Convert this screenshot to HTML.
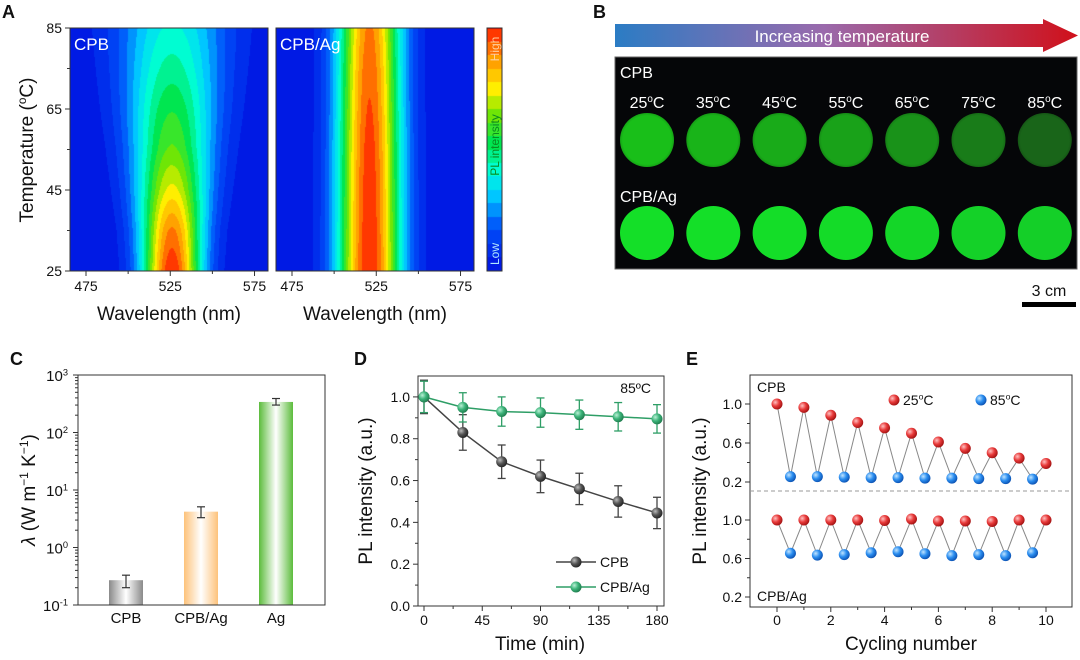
<!DOCTYPE html>
<html><head><meta charset="utf-8"><style>
body{margin:0;background:#fff;}
#page{position:relative;width:1080px;height:660px;overflow:hidden;font-family:"Liberation Sans",Arial,sans-serif;}
canvas{position:absolute;}
svg{position:absolute;left:0;top:0;}
text{font-family:"Liberation Sans",Arial,sans-serif;}
</style></head><body>
<div id="page">
<canvas id="hmA1" width="198" height="243" style="left:70px;top:28px"></canvas>
<canvas id="hmA2" width="198" height="243" style="left:276px;top:28px"></canvas>
<canvas id="cbar" width="15" height="243" style="left:487px;top:28px"></canvas>
<svg id="svg" width="1080" height="660" xmlns="http://www.w3.org/2000/svg">
<defs>
<linearGradient id="arrowGrad" x1="0" x2="1" y1="0" y2="0"><stop offset="0" stop-color="#2b7cc4"/><stop offset="0.45" stop-color="#9a6aac"/><stop offset="1" stop-color="#d0101a"/></linearGradient>
<linearGradient id="gGray" x1="0" x2="1"><stop offset="0" stop-color="#8a8a8a"/><stop offset="0.5" stop-color="#ffffff"/><stop offset="1" stop-color="#8a8a8a"/></linearGradient>
<linearGradient id="gOrange" x1="0" x2="1"><stop offset="0" stop-color="#fdc27a"/><stop offset="0.5" stop-color="#ffffff"/><stop offset="1" stop-color="#fdc27a"/></linearGradient>
<linearGradient id="gGreen" x1="0" x2="1"><stop offset="0" stop-color="#5cbc3c"/><stop offset="0.5" stop-color="#ffffff"/><stop offset="1" stop-color="#5cbc3c"/></linearGradient>
<radialGradient id="sDark" cx="0.35" cy="0.35" r="0.7"><stop offset="0" stop-color="#bbb"/><stop offset="0.5" stop-color="#555"/><stop offset="1" stop-color="#222"/></radialGradient>
<radialGradient id="sGreen" cx="0.35" cy="0.35" r="0.7"><stop offset="0" stop-color="#b9f0d5"/><stop offset="0.5" stop-color="#3cb47a"/><stop offset="1" stop-color="#1e7a4c"/></radialGradient>
<radialGradient id="sRed" cx="0.35" cy="0.35" r="0.7"><stop offset="0" stop-color="#ffc0c0"/><stop offset="0.5" stop-color="#e83a3a"/><stop offset="1" stop-color="#a01010"/></radialGradient>
<radialGradient id="sBlue" cx="0.35" cy="0.35" r="0.7"><stop offset="0" stop-color="#c0e4ff"/><stop offset="0.5" stop-color="#2b8ef0"/><stop offset="1" stop-color="#0a4fb0"/></radialGradient>
<radialGradient id="dishG" cx="0.5" cy="0.5" r="0.5"><stop offset="0.9" stop-color="#000" stop-opacity="0"/><stop offset="1" stop-color="#000" stop-opacity="0.15"/></radialGradient>
</defs>
</svg>
</div>
<script>
// ---------- Panel A data ----------
const tempsA = [25, 35, 45, 55, 65, 75, 85];
const peakCPB = [1.0, 0.9, 0.74, 0.62, 0.55, 0.47, 0.4];
const sigmaCPB = [13, 14, 16, 18, 20, 22, 24];
const peakCPBAg = [1.0, 0.99, 0.98, 0.97, 0.95, 0.93, 0.9];
const sigmaCPBAg = [14, 14, 14, 14, 14, 14, 14];
const centerCPB = 526;
const centerCPBAg = 521;
const tickWl = [475, 525, 575];
const tickTemp = [25, 45, 65, 85];
// ---------- Panel B data ----------
const tempsB = ["25", "35", "45", "55", "65", "75", "85"];
const brightCPB = [0.85, 0.8, 0.76, 0.72, 0.65, 0.55, 0.45];
const brightCPBAg = [0.95, 0.95, 0.94, 0.93, 0.91, 0.89, 0.88];
// ---------- Panel C data ----------
const catC = ["CPB", "CPB/Ag", "Ag"];
const valC = [0.27, 4.2, 340];
const errLoC = [0.2, 3.3, 300];
const errHiC = [0.33, 5.1, 390];
// ---------- Panel D data ----------
const timeD = [0, 30, 60, 90, 120, 150, 180];
const cpbD = [1.0, 0.83, 0.69, 0.62, 0.56, 0.5, 0.445];
const cpbErrD = [0.08, 0.085, 0.08, 0.078, 0.075, 0.075, 0.075];
const agD = [1.0, 0.95, 0.93, 0.925, 0.915, 0.905, 0.895];
const agErrD = [0.075, 0.07, 0.07, 0.07, 0.07, 0.068, 0.068];
const tickD_x = [0, 45, 90, 135, 180];
const tickD_y = [0, 0.2, 0.4, 0.6, 0.8, 1.0];
// ---------- Panel E data ----------
const cpbHot = [1.0, 0.965, 0.885, 0.81, 0.755, 0.70, 0.61, 0.545, 0.50, 0.445, 0.39];
const cpbCold = [0.255, 0.255, 0.25, 0.245, 0.245, 0.24, 0.24, 0.235, 0.235, 0.23];
const agHot = [1.0, 1.0, 1.0, 1.0, 0.995, 1.01, 0.99, 0.99, 0.985, 1.0, 1.0];
const agCold = [0.655, 0.635, 0.64, 0.66, 0.67, 0.65, 0.63, 0.64, 0.63, 0.66];
const tickE_x = [0, 2, 4, 6, 8, 10];
const tickE_y = [0.2, 0.6, 1.0];

const NS = "http://www.w3.org/2000/svg";
const svg = document.getElementById('svg');
function mk(tag, attrs, parent, txt){
  const e = document.createElementNS(NS, tag);
  for (const k in attrs) e.setAttribute(k, attrs[k]);
  if (txt !== undefined) e.textContent = txt;
  (parent || svg).appendChild(e);
  return e;
}
function label(x, y, s, size, anchor, name, extra){
  const t = mk('text', Object.assign({x:x, y:y, 'font-size':size, 'text-anchor':anchor||'middle', fill:'#111'}, extra||{}), null, s);
  
  
  return t;
}
function supText(x, y, base, sup, after, size, anchor, name, rot){
  const t = mk('text', {x:x, y:y, 'font-size':size, 'text-anchor':anchor||'middle', fill:'#111'});
  if (rot) t.setAttribute('transform', rot);
  
  
  mk('tspan', {}, t, base);
  mk('tspan', {'font-size':size*0.62, dy:-size*0.38}, t, sup);
  if (after) mk('tspan', {dy:size*0.38}, t, after);
  return t;
}

// ---------- Panel A heatmaps ----------
const cmapStops = [[0,[0,26,228]],[0.15,[0,80,250]],[0.28,[0,200,255]],[0.38,[0,255,220]],[0.5,[0,230,80]],[0.62,[120,230,0]],[0.72,[255,240,0]],[0.85,[255,150,0]],[0.95,[255,50,0]],[1,[240,0,0]]];
function cmap(v){
  v = Math.max(0, Math.min(1, v));
  v = Math.floor(v*18)/18;
  for (let i=1;i<cmapStops.length;i++){
    if (v <= cmapStops[i][0]){
      const a = cmapStops[i-1], b = cmapStops[i];
      const f = (v-a[0])/(b[0]-a[0]);
      return a[1].map((c,j)=>Math.round(c+(b[1][j]-c)*f));
    }
  }
  return cmapStops[cmapStops.length-1][1];
}
const wlMinA = 465.5, wlMaxA = 583, tMinA = 25, tMaxA = 85;
function interpAt(arr, T){
  for (let i=1;i<tempsA.length;i++){
    if (T <= tempsA[i]){ const f=(T-tempsA[i-1])/(tempsA[i]-tempsA[i-1]); return arr[i-1]+(arr[i]-arr[i-1])*f; }
  }
  return arr[arr.length-1];
}
function drawHeat(id, peaks, center, sigmas){
  const c = document.getElementById(id), ctx = c.getContext('2d');
  const W=c.width, H=c.height, img=ctx.createImageData(W,H);
  for (let y=0;y<H;y++){
    const T = tMaxA - (tMaxA-tMinA)*y/(H-1);
    const p = interpAt(peaks, T), s = interpAt(sigmas, T);
    for (let x=0;x<W;x++){
      const wl = wlMinA + (wlMaxA-wlMinA)*x/(W-1);
      const v = p*Math.exp(-Math.pow(wl-center,2)/(2*s*s));
      const col = cmap(v); const k=(y*W+x)*4;
      img.data[k]=col[0]; img.data[k+1]=col[1]; img.data[k+2]=col[2]; img.data[k+3]=255;
    }
  }
  ctx.putImageData(img,0,0);
}
drawHeat('hmA1', peakCPB, centerCPB, sigmaCPB);
drawHeat('hmA2', peakCPBAg, centerCPBAg, sigmaCPBAg);
(function(){
  const c=document.getElementById('cbar'), ctx=c.getContext('2d');
  for (let y=0;y<c.height;y++){ const col=cmap(1-y/(c.height-1)); ctx.fillStyle='rgb('+col.join(',')+')'; ctx.fillRect(0,y,c.width,1); }
})();
function axA(x0, w, name){
  mk('rect',{x:x0,y:28,width:w,height:243,fill:'none',stroke:'#333','stroke-width':1});
  const xs = v => x0 + (v-wlMinA)/(wlMaxA-wlMinA)*w;
  tickWl.forEach(v=>{
    mk('line',{x1:xs(v),x2:xs(v),y1:271,y2:276,stroke:'#333'});
    label(xs(v),291,String(v),14,'middle','x-tick-label');
  });
  [500,550].forEach(v=>mk('line',{x1:xs(v),x2:xs(v),y1:271,y2:274,stroke:'#333'}));
  label(x0+w/2,320,'Wavelength (nm)',19,'middle',name+'-x-axis-title');
}
axA(70,198,'cpb'); axA(276,198,'cpb-ag');
const ysA = v => 271 - (v-tMinA)/(tMaxA-tMinA)*243;
tickTemp.forEach(v=>{ mk('line',{x1:65,x2:70,y1:ysA(v),y2:ysA(v),stroke:'#333'}); label(62,ysA(v)+5,String(v),14,'end','y-tick-label'); });
[35,55,75].forEach(v=>mk('line',{x1:67,x2:70,y1:ysA(v),y2:ysA(v),stroke:'#333'}));
supText(33,150,'Temperature (','o','C)',19,'middle','y-axis-title-temperature','rotate(-90 33 150)');
label(74,50,'CPB',17,'start','label-cpb',{fill:'#fff'});
label(280,50,'CPB/Ag',17,'start','label-cpb-ag',{fill:'#fff'});
mk('rect',{x:487,y:28,width:15,height:243,fill:'none',stroke:'#333'});
label(499,49,'High',12,'middle','colorbar-high',{fill:'#ffd0a0',transform:'rotate(-90 499 49)'});
label(499,145,'PL intensity',12,'middle','colorbar-title',{fill:'#0a8a20',transform:'rotate(-90 499 145)'});
label(499,254,'Low',12,'middle','colorbar-low',{fill:'#b0e8ff',transform:'rotate(-90 499 254)'});
label(2,18,'A',18,'start','panel-label-a',{'font-weight':'bold'});

// ---------- Panel B ----------
label(593,18,'B',18,'start','panel-label-b',{'font-weight':'bold'});
const arrow = mk('path',{d:'M615 24 H1043 V19 L1078 35.5 L1043 52 V47 H615 Z',fill:'url(#arrowGrad)'});


label(842,42,'Increasing temperature',17,'middle','arrow-label',{fill:'#fff'});
const photo = mk('rect',{x:615,y:57,width:462,height:212,fill:'#050608',stroke:'#666','stroke-width':1});


label(620,78,'CPB',16,'start','photo-label-cpb',{fill:'#fff'});
label(620,202,'CPB/Ag',16,'start','photo-label-cpb-ag',{fill:'#fff'});
tempsB.forEach((t,i)=>{
  const cx = 647 + i*66.3;
  supText(cx,108,t,'o','C',16,'middle','temp-label',null).setAttribute('fill','#fff');
  const g1 = Math.round(225*brightCPB[i]);
  const d1 = mk('circle',{cx:cx,cy:140,r:27,fill:'rgb(25,'+g1+',25)'});
  
  
  mk('circle',{cx:cx,cy:140,r:27,fill:'url(#dishG)'});
  const g2 = Math.round(235*brightCPBAg[i]);
  const d2 = mk('circle',{cx:cx,cy:233,r:27,fill:'rgb(20,'+g2+',40)'});
  
  
});
label(1049,296,'3 cm',16,'middle','scale-bar-label');
const sb = mk('rect',{x:1022,y:302,width:54,height:5,fill:'#000'});



// ---------- Panel C ----------
label(10,365,'C',18,'start','panel-label-c',{'font-weight':'bold'});
const cX0=78, cX1=325, cY0=375, cY1=605;
const ysC = v => cY1 - (Math.log10(v)+1)/4*(cY1-cY0);
const xsC = i => 126 + i*75;
const grads = ['url(#gGray)','url(#gOrange)','url(#gGreen)'];
catC.forEach((c,i)=>{
  const b = mk('rect',{x:xsC(i)-17,y:ysC(valC[i]),width:34,height:cY1-ysC(valC[i]),fill:grads[i]});
  
  
  const x=xsC(i);
  mk('line',{x1:x,x2:x,y1:ysC(errLoC[i]),y2:ysC(errHiC[i]),stroke:'#333','stroke-width':1.2});
  mk('line',{x1:x-4,x2:x+4,y1:ysC(errLoC[i]),y2:ysC(errLoC[i]),stroke:'#333','stroke-width':1.2});
  mk('line',{x1:x-4,x2:x+4,y1:ysC(errHiC[i]),y2:ysC(errHiC[i]),stroke:'#333','stroke-width':1.2});
  label(x,623,c,15,'middle','x-tick-label');
});
mk('rect',{x:cX0,y:cY0,width:cX1-cX0,height:cY1-cY0,fill:'none',stroke:'#333'});
for (let e=-1;e<=3;e++){
  const y=ysC(Math.pow(10,e));
  mk('line',{x1:cX0-5,x2:cX0,y1:y,y2:y,stroke:'#333'});
  supText(68,y+6,'10',String(e),'',15,'end','y-tick-label',null);
  if (e<3) for (let m=2;m<=9;m++){ const ym=ysC(m*Math.pow(10,e)); mk('line',{x1:cX0-3,x2:cX0,y1:ym,y2:ym,stroke:'#333'}); }
}
const ytc = mk('text',{x:0,y:0,'font-size':19,'text-anchor':'middle',fill:'#111',transform:'translate(35 490) rotate(-90)'});


mk('tspan',{'font-style':'italic'},ytc,'λ');
mk('tspan',{},ytc,' (W m');
mk('tspan',{'font-size':12,dy:-7},ytc,'−1');
mk('tspan',{dy:7},ytc,' K');
mk('tspan',{'font-size':12,dy:-7},ytc,'−1');
mk('tspan',{dy:7},ytc,')');

// ---------- Panel D ----------
label(354,365,'D',18,'start','panel-label-d',{'font-weight':'bold'});
const dX0=418,dX1=664,dY0=376,dY1=606;
const xsD = v => 424 + v*(657-424)/180;
const ysD = v => dY1 - v*(dY1-dY0)/1.1;
mk('rect',{x:dX0,y:dY0,width:dX1-dX0,height:dY1-dY0,fill:'none',stroke:'#333'});
tickD_x.forEach(v=>{ mk('line',{x1:xsD(v),x2:xsD(v),y1:dY1,y2:dY1+5,stroke:'#333'}); label(xsD(v),625,String(v),14,'middle','x-tick-label'); });
[22.5,67.5,112.5,157.5].forEach(v=>mk('line',{x1:xsD(v),x2:xsD(v),y1:dY1,y2:dY1+3,stroke:'#333'}));
tickD_y.forEach(v=>{ mk('line',{x1:dX0-5,x2:dX0,y1:ysD(v),y2:ysD(v),stroke:'#333'}); label(dX0-8,ysD(v)+5,v.toFixed(1),14,'end','y-tick-label'); });
[0.1,0.3,0.5,0.7,0.9].forEach(v=>mk('line',{x1:dX0-3,x2:dX0,y1:ysD(v),y2:ysD(v),stroke:'#333'}));
function seriesD(vals, errs, color, grad, name){
  const pl = mk('polyline',{points:vals.map((v,i)=>xsD(timeD[i])+','+ysD(v)).join(' '),fill:'none',stroke:color,'stroke-width':1.5});
  
  
  vals.forEach((v,i)=>{
    const x=xsD(timeD[i]);
    mk('line',{x1:x,x2:x,y1:ysD(v-errs[i]),y2:ysD(v+errs[i]),stroke:color,'stroke-width':1.3});
    mk('line',{x1:x-4,x2:x+4,y1:ysD(v-errs[i]),y2:ysD(v-errs[i]),stroke:color,'stroke-width':1.3});
    mk('line',{x1:x-4,x2:x+4,y1:ysD(v+errs[i]),y2:ysD(v+errs[i]),stroke:color,'stroke-width':1.3});
    const p = mk('circle',{cx:x,cy:ysD(v),r:5.5,fill:grad});
    
    
  });
}
seriesD(cpbD,cpbErrD,'#444','url(#sDark)','cpb');
seriesD(agD,agErrD,'#2e9e66','url(#sGreen)','cpb-ag');
label(651,393,'85ºC',14,'end','temp-annotation');
mk('line',{x1:556,x2:596,y1:562,y2:562,stroke:'#444','stroke-width':1.5});
mk('circle',{cx:576,cy:562,r:5.5,fill:'url(#sDark)'});
label(600,567,'CPB',14,'start','legend-entry-cpb');
mk('line',{x1:556,x2:596,y1:587,y2:587,stroke:'#2e9e66','stroke-width':1.5});
mk('circle',{cx:576,cy:587,r:5.5,fill:'url(#sGreen)'});
label(600,592,'CPB/Ag',14,'start','legend-entry-cpb-ag');
label(540,650,'Time (min)',19,'middle','x-axis-title-time');
label(0,0,'PL intensity (a.u.)',19,'middle','y-axis-title-pl-d',{transform:'translate(372 491) rotate(-90)'});

// ---------- Panel E ----------
label(686,365,'E',18,'start','panel-label-e',{'font-weight':'bold'});
const eX0=750,eX1=1072,eY0=375,eY1=607;
const xsE = v => 777 + v*(1046-777)/10;
const ysEu = v => 404 + (1.0-v)*(482-404)/0.8;
const ysEl = v => 520 + (1.0-v)*(597-520)/0.8;
mk('rect',{x:eX0,y:eY0,width:eX1-eX0,height:eY1-eY0,fill:'none',stroke:'#333'});
mk('line',{x1:eX0,x2:eX1,y1:491,y2:491,stroke:'#999','stroke-dasharray':'4 3'});
tickE_x.forEach(v=>{ mk('line',{x1:xsE(v),x2:xsE(v),y1:eY1,y2:eY1+5,stroke:'#333'}); label(xsE(v),625,String(v),14,'middle','x-tick-label'); });
[1,3,5,7,9].forEach(v=>mk('line',{x1:xsE(v),x2:xsE(v),y1:eY1,y2:eY1+3,stroke:'#333'}));
tickE_y.forEach(v=>{
  [ysEu(v),ysEl(v)].forEach(y=>{ mk('line',{x1:eX0-5,x2:eX0,y1:y,y2:y,stroke:'#333'}); label(eX0-8,y+5,v.toFixed(1),14,'end','y-tick-label'); });
});
[0.4,0.8].forEach(v=>{ [ysEu(v),ysEl(v)].forEach(y=>mk('line',{x1:eX0-3,x2:eX0,y1:y,y2:y,stroke:'#333'})); });
function seriesE(hot, cold, ys, name){
  const pts=[];
  hot.forEach((v,i)=>{ pts.push([xsE(i),ys(v)]); if (i<cold.length) pts.push([xsE(i+0.5),ys(cold[i])]); });
  const pl = mk('polyline',{points:pts.map(p=>p.join(',')).join(' '),fill:'none',stroke:'#888','stroke-width':1});
  
  
  hot.forEach((v,i)=>{ const c=mk('circle',{cx:xsE(i),cy:ys(v),r:5.5,fill:'url(#sRed)'});   });
  cold.forEach((v,i)=>{ const c=mk('circle',{cx:xsE(i+0.5),cy:ys(v),r:5.5,fill:'url(#sBlue)'});   });
}
seriesE(cpbHot,cpbCold,ysEu,'cpb');
seriesE(agHot,agCold,ysEl,'cpb-ag');
label(757,392,'CPB',14,'start','label-cpb-e');
label(757,601,'CPB/Ag',14,'start','label-cpb-ag-e');
mk('circle',{cx:894,cy:400,r:5.5,fill:'url(#sRed)'});
supText(903,405,'25','o','C',14,'start','legend-entry-25c',null);
mk('circle',{cx:981,cy:400,r:5.5,fill:'url(#sBlue)'});
supText(990,405,'85','o','C',14,'start','legend-entry-85c',null);
label(911,650,'Cycling number',19,'middle','x-axis-title-cycling');
label(0,0,'PL intensity (a.u.)',19,'middle','y-axis-title-pl-e',{transform:'translate(706 491) rotate(-90)'});
</script>
</body></html>
